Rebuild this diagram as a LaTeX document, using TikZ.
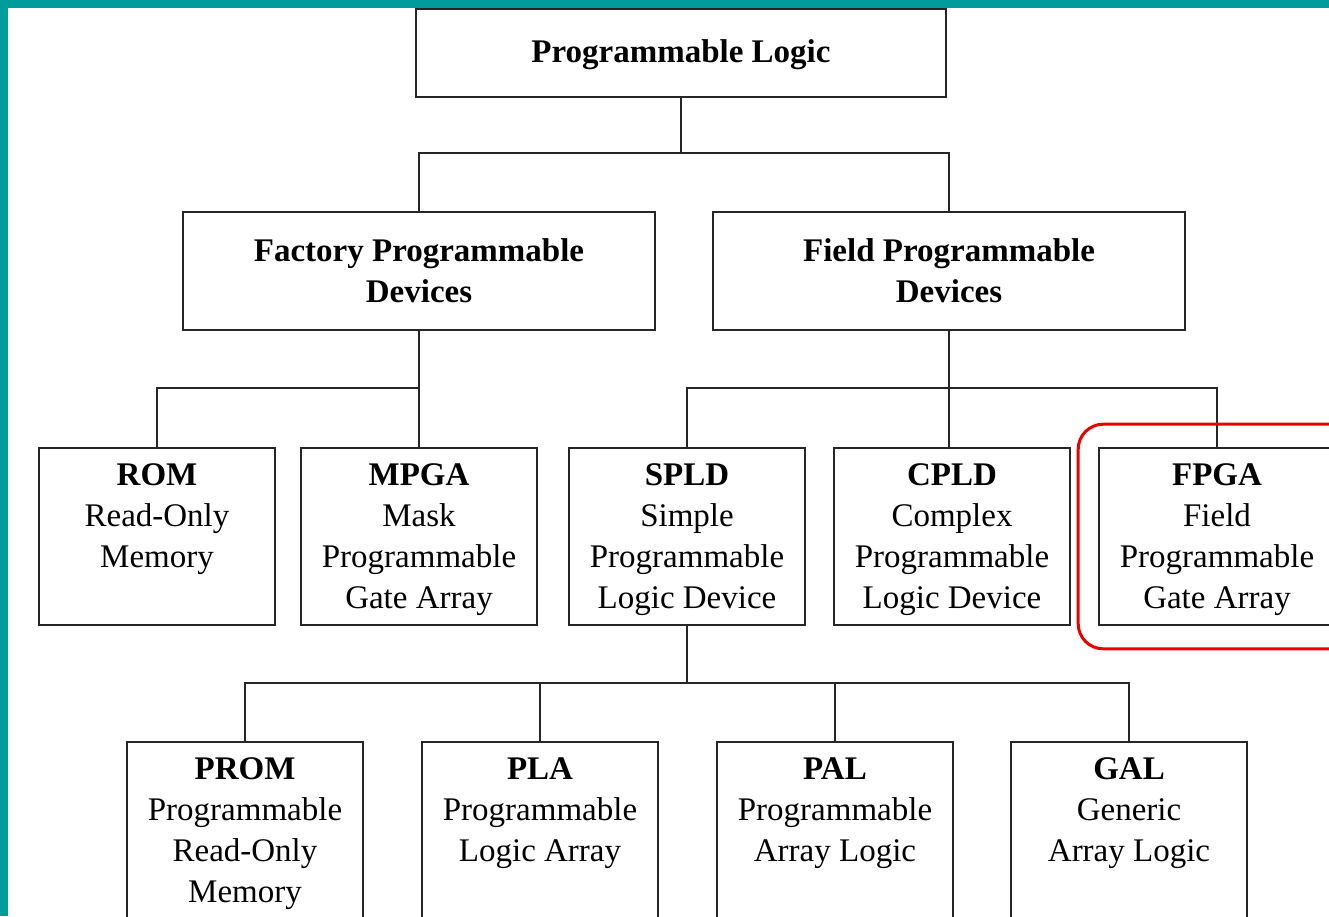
\documentclass[tikz,border=0pt]{standalone}
\usepackage{fontspec}
\setmainfont{Liberation Serif}
\usetikzlibrary{fit}
\definecolor{frameteal}{RGB}{0,155,155}
\definecolor{markred}{RGB}{235,0,0}
\newcommand{\devtext}[3][177pt]{\parbox[c][#1][t]{236pt}{\centering\vspace*{16pt}\textbf{#2}\\#3}}

\begin{document}
\begin{tikzpicture}[x=1pt,y=-1pt,
    every node/.style={font=\fontsize{33}{41}\selectfont},
    group/.style={draw=black!85, line width=1.6pt, align=center, inner sep=0pt,
        font=\fontsize{33}{41}\selectfont\bfseries},
    device/.style={draw=black!85, line width=1.6pt, inner sep=0pt},
    link/.style={draw=black!85, line width=1.6pt}]
    \useasboundingbox (0,0) rectangle (1329,916);
    \clip (0,0) rectangle (1329,916);

    % Top of the tree
    \node[group, minimum width=530pt, minimum height=88pt, text depth=4pt] (logic) at (681,53) {Programmable Logic};

    % Second level
    \node[group, minimum width=472pt, minimum height=118pt] (factory) at (419,271) {Factory Programmable\\Devices};
    \node[group, minimum width=472pt, minimum height=118pt] (field) at (949,271) {Field Programmable\\Devices};

    % Third level
    \node[device] (rom) at (157,536.5) {\devtext{ROM}{Read-Only\\Memory}};
    \node[device] (mpga) at (419,536.5) {\devtext{MPGA}{Mask\\Programmable\\Gate Array}};
    \node[device] (spld) at (687,536.5) {\devtext{SPLD}{Simple\\Programmable\\Logic Device}};
    \node[device] (cpld) at (952,536.5) {\devtext{CPLD}{Complex\\Programmable\\Logic Device}};
    \node[device] (fpga) at (1217,536.5) {\devtext{FPGA}{Field\\Programmable\\Gate Array}};

    % Fourth level, below SPLD
    \node[device] (prom) at (245,842) {\devtext[200pt]{PROM}{Programmable\\Read-Only\\Memory}};
    \node[device] (pla) at (540,842) {\devtext[200pt]{PLA}{Programmable\\Logic Array}};
    \node[device] (pal) at (835,842) {\devtext[200pt]{PAL}{Programmable\\Array Logic}};
    \node[device] (gal) at (1129,842) {\devtext[200pt]{GAL}{Generic\\Array Logic}};

    % Connectors from the top
    \coordinate (split1) at (681,153);
    \draw[link] (logic.south) -- (split1);
    \draw[link] (factory.north) |- (split1) -| (field.north);

    % Connectors below factory programmable
    \coordinate (split2) at (419,388);
    \draw[link] (factory.south) -- (mpga.north);
    \draw[link] (rom.north) |- (split2);

    % Connectors below field programmable
    \coordinate (split3) at (949,388);
    \draw[link] (field.south) -- (field.south |- cpld.north);
    \draw[link] (spld.north) |- (split3) -| (fpga.north);

    % Connectors below SPLD
    \coordinate (split4) at (687,683);
    \draw[link] (spld.south) -- (split4);
    \draw[link] (prom.north) |- (split4) -| (gal.north);
    \draw[link] (pla.north) -- (pla.north |- split4);
    \draw[link] (pal.north) -- (pal.north |- split4);

    % Red mark round FPGA
    \node[draw=markred, line width=3pt, rounded corners=25pt, fit=(fpga),
        inner xsep=20pt, inner ysep=23pt] (fpgamark) {};

    % Teal frame on the left and top
    \fill[frameteal] (0,0) rectangle (8,916);
    \fill[frameteal] (0,0) rectangle (1329,8);
\end{tikzpicture}
\end{document}
